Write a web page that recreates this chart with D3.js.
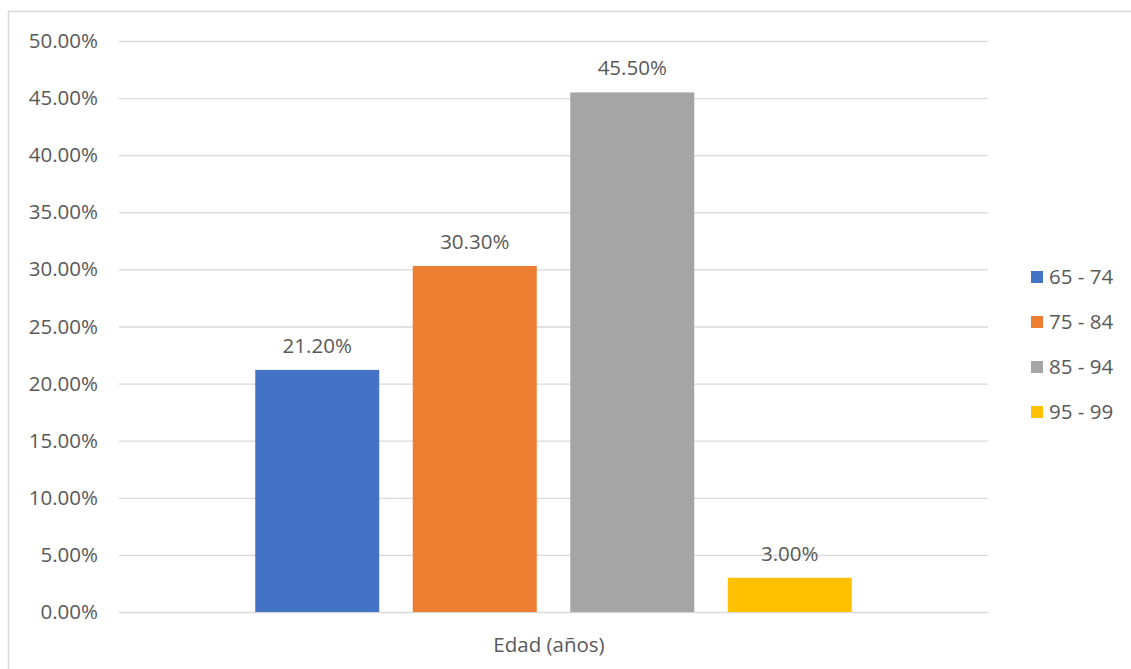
<!DOCTYPE html>
<html><head><meta charset="utf-8">
<script src="https://cdn.jsdelivr.net/npm/d3@7"></script>
<style>body{margin:0;background:#fff;}svg{display:block;font-family:"Open Sans",Calibri,sans-serif;}</style>
</head><body><svg id="c" width="1131" height="669"></svg>
<script>
const series = ["65 - 74","75 - 84","85 - 94","95 - 99"];
const values = [21.2, 30.3, 45.5, 3.0];
const colors = ["#4472C4","#ED7D31","#A5A5A5","#FFC000"];
const yTicks = [0,5,10,15,20,25,30,35,40,45,50];
const axisTitle = "Edad (años)";

const svg = d3.select("#c");
svg.append("rect").attr("x",8.5).attr("y",11.5).attr("width",1130).attr("height",670)
  .attr("fill","none").attr("stroke","#D9D9D9").attr("stroke-width",1.5);

const L=119, R=988, T=41, B=612;
const FS = 20.5;
const y = d3.scaleLinear().domain([0,50]).range([B,T]);
const x = d3.scaleBand().domain(series).range([L,R]).paddingInner(0.213).paddingOuter(0.865);

const yAxis = svg.append("g").attr("transform",`translate(${L},0)`)
  .call(d3.axisLeft(y).tickValues(yTicks).tickSize(-(R-L)).tickPadding(21).tickFormat(d=>d.toFixed(2)+"%"));
yAxis.select(".domain").remove();
yAxis.selectAll("line").attr("stroke","#D9D9D9").attr("stroke-width",1.3);
yAxis.selectAll("text").attr("fill","#595959").attr("font-size",FS).attr("font-family","'Open Sans',sans-serif");

svg.selectAll("rect.bar").data(values).join("rect").attr("class","bar")
  .attr("x",(d,i)=>x(series[i])).attr("width",x.bandwidth())
  .attr("y",d=>y(d)).attr("height",d=>B-y(d)).attr("fill",(d,i)=>colors[i]);

svg.selectAll("text.lbl").data(values).join("text").attr("class","lbl")
  .attr("x",(d,i)=>x(series[i])+x.bandwidth()/2).attr("y",d=>y(d)-17)
  .attr("text-anchor","middle").attr("fill","#595959").attr("font-size",FS)
  .text(d=>d.toFixed(2)+"%");

svg.append("text").attr("x",549).attr("y",652).attr("text-anchor","middle")
  .attr("fill","#595959").attr("font-size",FS).text(axisTitle);

const lg = svg.append("g");
series.forEach((s,i)=>{
  const cy = 277 + i*45;
  lg.append("rect").attr("x",1031).attr("y",cy-6).attr("width",12).attr("height",12).attr("fill",colors[i]);
  lg.append("text").attr("x",1049).attr("y",cy+7).attr("fill","#595959").attr("font-size",FS).text(s);
});
</script></body></html>
